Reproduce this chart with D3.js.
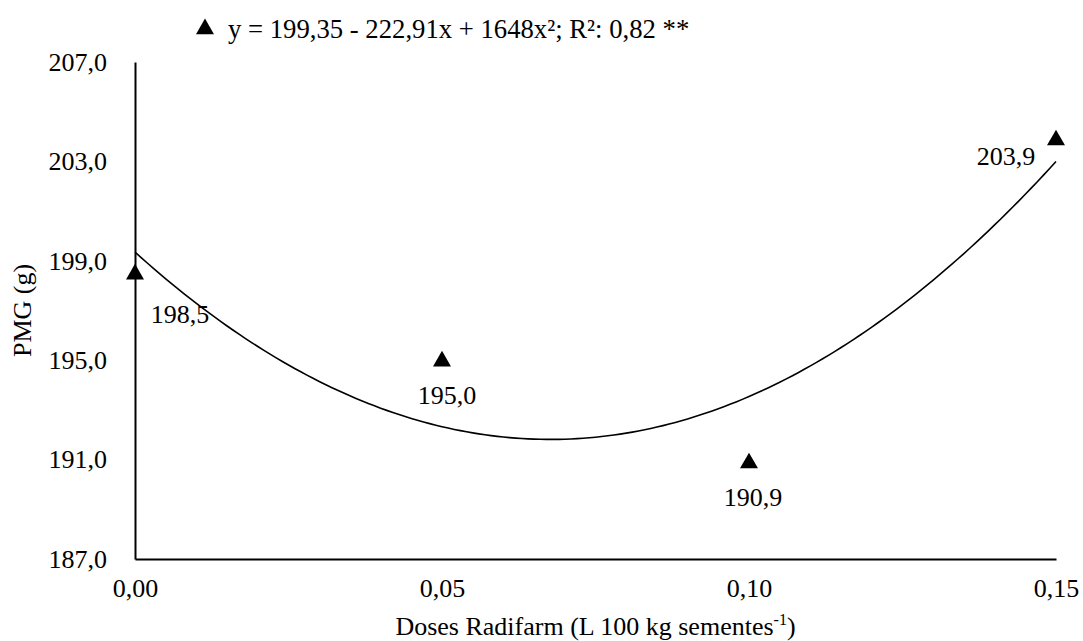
<!DOCTYPE html>
<html>
<head>
<meta charset="utf-8">
<script src="https://cdn.jsdelivr.net/npm/d3@7"></script>
<style>
  body { margin: 0; background: #fff; }
  svg text { font-family: "Liberation Serif", "DejaVu Serif", "Times New Roman", serif; fill: #000; }
</style>
</head>
<body>
<div id="chart"></div>
<script>
// data
var doses = [0, 0.05, 0.10, 0.15];
var pmg = [198.5, 195.0, 190.9, 203.9];
var coefs = [199.35, -222.91, 1648];   // y = a + b x + c x²
var yTicks = [187, 191, 195, 199, 203, 207];
var xTicks = [0, 0.05, 0.10, 0.15];
var equationText = "y = 199,35 - 222,91x + 1648x²; R²: 0,82 **";

var width = 1083, height = 641;
var margin = {top: 62, right: 27, bottom: 82, left: 135};
var fs = "26px";

var locale = d3.formatLocale({decimal: ",", thousands: ".", grouping: [3], currency: ["", ""]});
var f1 = locale.format(".1f"), f2 = locale.format(".2f");

var svg = d3.select("#chart").append("svg")
    .attr("width", width)
    .attr("height", height)
    .attr("font-family", "Liberation Serif, serif");

var x = d3.scaleLinear().domain([0, 0.15]).range([margin.left, width - margin.right]);
var y = d3.scaleLinear().domain([187, 207]).range([height - margin.bottom, margin.top]);

// axes, no tick marks
var yAxis = svg.append("g")
    .attr("transform", "translate(" + margin.left + ",0)")
    .call(d3.axisLeft(y).tickValues(yTicks).tickSize(0).tickPadding(28).tickFormat(f1));
var xAxis = svg.append("g")
    .attr("transform", "translate(0," + (height - margin.bottom) + ")")
    .call(d3.axisBottom(x).tickValues(xTicks).tickSize(0).tickPadding(20).tickFormat(f2));
[yAxis, xAxis].forEach(function(a) {
  a.attr("font-family", null).attr("font-size", null);
  a.select(".domain").attr("stroke", "#000").attr("stroke-width", 2);
  a.selectAll("text").style("font-size", fs);
});

// fitted curve
var curveX = d3.range(0, 0.1501, 0.001);
var line = d3.line()
    .x(function(d) { return x(d); })
    .y(function(d) { return y(coefs[0] + coefs[1] * d + coefs[2] * d * d); });
svg.append("path")
    .datum(curveX)
    .attr("d", line)
    .attr("fill", "none")
    .attr("stroke", "#000")
    .attr("stroke-width", 1.6);

// points
var tri = d3.symbol().type(d3.symbolTriangle).size(140);
svg.selectAll(".pt")
  .data(doses)
  .enter().append("path")
    .attr("class", "pt")
    .attr("d", tri)
    .attr("transform", function(d, i) { return "translate(" + x(d) + "," + (y(pmg[i]) + 1) + ")"; })
    .attr("fill", "#000");

// value labels (offsets of label centre from the marker)
var labelOff = [[45, 41], [5, 35], [4, 35], [-50, 17]];
svg.selectAll(".lbl")
  .data(doses)
  .enter().append("text")
    .attr("class", "lbl")
    .attr("x", function(d, i) { return x(d) + labelOff[i][0]; })
    .attr("y", function(d, i) { return y(pmg[i]) + labelOff[i][1]; })
    .attr("dy", "0.35em")
    .attr("text-anchor", "middle")
    .style("font-size", fs)
    .text(function(d, i) { return f1(pmg[i]); });

// legend
svg.append("path")
    .attr("d", tri)
    .attr("transform", "translate(205,29)")
    .attr("fill", "#000");
svg.append("text")
    .attr("x", 228)
    .attr("y", 38)
    .style("font-size", "26.7px")
    .text(equationText);

// axis titles
svg.append("text")
    .attr("transform", "translate(31," + ((margin.top + height - margin.bottom) / 2) + ") rotate(-90)")
    .attr("text-anchor", "middle")
    .style("font-size", fs)
    .text("PMG (g)");

var xt = svg.append("text")
    .attr("x", (margin.left + width - margin.right) / 2)
    .attr("y", 635)
    .attr("text-anchor", "middle")
    .style("font-size", fs);
xt.append("tspan").text("Doses Radifarm (L 100 kg sementes");
xt.append("tspan").attr("dy", -10).style("font-size", "16px").text("-1");
xt.append("tspan").attr("dy", 10).text(")");
</script>
</body>
</html>
